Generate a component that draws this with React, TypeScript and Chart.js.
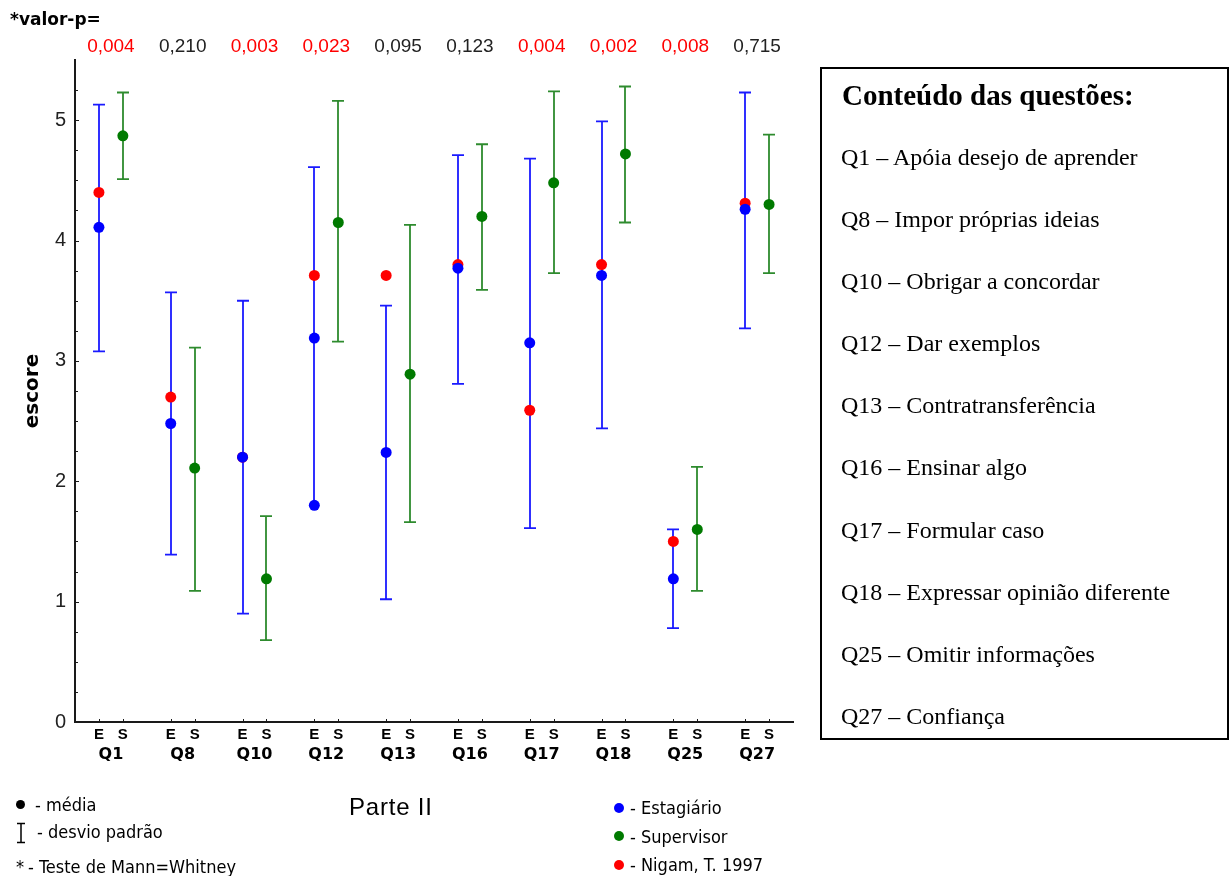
import React, { useEffect, useRef } from 'react';
import { Chart, registerables } from 'chart.js';

Chart.register(...registerables);

// ---------- data ----------
const questions = ['Q1', 'Q8', 'Q10', 'Q12', 'Q13', 'Q16', 'Q17', 'Q18', 'Q25', 'Q27'];
const pValues = ['0,004', '0,210', '0,003', '0,023', '0,095', '0,123', '0,004', '0,002', '0,008', '0,715'];

const estagiarioMean = [4.11, 2.48, 2.2, 3.19, 2.24, 3.77, 3.15, 3.71, 1.19, 4.26];
const estagiarioUpper = [5.13, 3.57, 3.5, 4.61, 3.46, 4.71, 4.68, 4.99, 1.6, 5.23];
const estagiarioLower = [3.08, 1.39, 0.9, 1.8, 1.02, 2.81, 1.61, 2.44, 0.78, 3.27];
const estagiarioExtraPoint = [null, null, null, 1.8, null, null, null, null, null, null];

const supervisorMean = [4.87, 2.11, 1.19, 4.15, 2.89, 4.2, 4.48, 4.72, 1.6, 4.3];
const supervisorUpper = [5.23, 3.11, 1.71, 5.16, 4.13, 4.8, 5.24, 5.28, 2.12, 4.88];
const supervisorLower = [4.51, 1.09, 0.68, 3.16, 1.66, 3.59, 3.73, 4.15, 1.09, 3.73];

const nigamMean = [4.4, 2.7, 2.2, 3.71, 3.71, 3.8, 2.59, 3.8, 1.5, 4.31];

const yTickValues = [0, 1, 2, 3, 4, 5];
const groupLetters = ['E', 'S'];

const contentTitle = 'Conteúdo das questões:';
const contentItems = [
  'Q1 – Apóia desejo de aprender',
  'Q8 – Impor próprias ideias',
  'Q10 – Obrigar a concordar',
  'Q12 – Dar exemplos',
  'Q13 – Contratransferência',
  'Q16 – Ensinar algo',
  'Q17 – Formular caso',
  'Q18 – Expressar opinião diferente',
  'Q25 – Omitir informações',
  'Q27 – Confiança',
];

// ---------- styles ----------
const SANS = '"Liberation Sans", Arial, sans-serif';
const COND = '"DejaVu Sans Condensed", "Liberation Sans", Arial, sans-serif';
const DEJAVU = '"DejaVu Sans", sans-serif';
const SERIF = '"Liberation Serif", "Times New Roman", serif';

const BLUE = '#0000ff';
const BLUE_LINE = '#1a1aff';
const GREEN = '#007a00';
const GREEN_LINE = '#2e8b2e';
const RED = '#ff0000';
const AXIS = '#1a1a1a';

const ePos = (i: number) => 3 * i + 1;
const sPos = (i: number) => 3 * i + 2;
const gPos = (i: number) => 3 * i + 1.5;

const errorBarPlugin = {
  id: 'errorBars',
  beforeDatasetsDraw(chart: any) {
    const { ctx } = chart;
    const xs = chart.scales.x;
    const ys = chart.scales.y;
    const bar = (xv: number, lo: number, hi: number, color: string, lowCap: boolean) => {
      const px = Math.round(xs.getPixelForValue(xv));
      const pLo = ys.getPixelForValue(lo);
      const pHi = ys.getPixelForValue(hi);
      ctx.save();
      ctx.strokeStyle = color;
      ctx.lineWidth = 1.8;
      ctx.beginPath();
      ctx.moveTo(px, pLo);
      ctx.lineTo(px, pHi);
      ctx.moveTo(px - 6, pHi);
      ctx.lineTo(px + 6, pHi);
      if (lowCap) {
        ctx.moveTo(px - 6, pLo);
        ctx.lineTo(px + 6, pLo);
      }
      ctx.stroke();
      ctx.restore();
    };
    questions.forEach((_, i) => {
      bar(ePos(i), estagiarioLower[i], estagiarioUpper[i], BLUE_LINE, estagiarioExtraPoint[i] == null);
      bar(sPos(i), supervisorLower[i], supervisorUpper[i], GREEN_LINE, true);
    });
  },
};

const inwardTicksPlugin = {
  id: 'inwardTicks',
  afterDraw(chart: any) {
    const { ctx } = chart;
    const xs = chart.scales.x;
    const ys = chart.scales.y;
    ctx.save();
    ctx.strokeStyle = AXIS;
    ctx.lineWidth = 1;
    ctx.beginPath();
    const left = xs.left;
    for (let v = 0.25; v <= ys.max - 0.2; v += 0.25) {
      const py = Math.round(ys.getPixelForValue(v)) + 0.5;
      const len = Math.abs(v - Math.round(v)) < 1e-6 ? 4 : 3;
      ctx.moveTo(left, py);
      ctx.lineTo(left + len, py);
    }
    const bottom = ys.bottom;
    questions.forEach((_, i) => {
      [ePos(i), sPos(i)].forEach((v) => {
        const px = Math.round(xs.getPixelForValue(v)) + 0.5;
        ctx.moveTo(px, bottom);
        ctx.lineTo(px, bottom - 3);
      });
    });
    ctx.stroke();
    ctx.restore();
  },
};

const pColor = (p: string) => (parseFloat(p.replace(',', '.')) < 0.05 ? RED : '#222222');

const noGrid = { display: false, drawTicks: false, tickLength: 0 };

function buildConfig(): any {
  const esTicks = questions.flatMap((_, i) => [ePos(i), sPos(i)]);
  return {
    type: 'scatter',
    data: {
      datasets: [
        {
          label: 'Estagiário',
          data: questions.map((_, i) => ({ x: ePos(i), y: estagiarioMean[i] })),
          backgroundColor: BLUE,
          borderColor: BLUE,
          pointRadius: 5.5,
          pointBorderWidth: 0,
        },
        {
          label: 'Estagiário (limite)',
          data: questions
            .map((_, i) => ({ x: ePos(i), y: estagiarioExtraPoint[i] }))
            .filter((d) => d.y != null),
          backgroundColor: BLUE,
          borderColor: BLUE,
          pointRadius: 5.5,
          pointBorderWidth: 0,
        },
        {
          label: 'Nigam, T. 1997',
          data: questions.map((_, i) => ({ x: ePos(i), y: nigamMean[i] })),
          backgroundColor: RED,
          borderColor: RED,
          pointRadius: 5.5,
          pointBorderWidth: 0,
        },
        {
          label: 'Supervisor',
          data: questions.map((_, i) => ({ x: sPos(i), y: supervisorMean[i] })),
          backgroundColor: GREEN,
          borderColor: GREEN,
          pointRadius: 5.5,
          pointBorderWidth: 0,
        },
      ],
    },
    options: {
      responsive: false,
      animation: false,
      devicePixelRatio: 1,
      layout: { padding: { left: 0, top: 0, right: 438, bottom: 0 } },
      plugins: {
        legend: { display: false },
        tooltip: { enabled: false },
      },
      scales: {
        x: {
          type: 'linear',
          position: 'bottom',
          min: 0,
          max: 30,
          weight: 0,
          grid: noGrid,
          border: { display: true, color: AXIS, width: 2 },
          afterBuildTicks: (s: any) => {
            s.ticks = esTicks.map((v) => ({ value: v }));
          },
          afterFit: (s: any) => {
            s.height = 22;
          },
          ticks: {
            autoSkip: false,
            maxRotation: 0,
            padding: 4,
            color: '#000',
            font: { family: SANS, size: 15, weight: 'bold' },
            callback: (_v: any, idx: number) => groupLetters[idx % 2],
          },
        },
        xq: {
          type: 'linear',
          position: 'bottom',
          min: 0,
          max: 30,
          weight: 1,
          grid: noGrid,
          border: { display: false },
          afterBuildTicks: (s: any) => {
            s.ticks = questions.map((_, i) => ({ value: gPos(i) }));
          },
          afterFit: (s: any) => {
            s.height = 132;
          },
          ticks: {
            autoSkip: false,
            maxRotation: 0,
            padding: 1,
            color: '#000',
            font: { family: DEJAVU, size: 16, weight: 'bold' },
            callback: (_v: any, idx: number) => questions[idx],
          },
        },
        xp: {
          type: 'linear',
          position: 'top',
          min: 0,
          max: 30,
          grid: noGrid,
          border: { display: false },
          afterBuildTicks: (s: any) => {
            s.ticks = pValues.map((_, i) => ({ value: gPos(i) }));
          },
          afterFit: (s: any) => {
            s.height = 60;
          },
          ticks: {
            autoSkip: false,
            maxRotation: 0,
            padding: 2,
            font: { family: SANS, size: 19 },
            color: (c: any) => pColor(pValues[c.index] || '1'),
            callback: (_v: any, idx: number) => pValues[idx],
          },
        },
        y: {
          type: 'linear',
          position: 'left',
          min: 0,
          max: 5.5,
          grid: noGrid,
          border: { display: true, color: AXIS, width: 2 },
          afterBuildTicks: (s: any) => {
            s.ticks = yTickValues.map((v) => ({ value: v }));
          },
          afterFit: (s: any) => {
            s.width = 75;
          },
          ticks: {
            padding: 9,
            color: '#222',
            font: { family: SANS, size: 20 },
            callback: (v: any) => String(v),
          },
          title: {
            display: true,
            text: 'escore',
            color: '#000',
            padding: { top: 21, bottom: 0 },
            font: { family: DEJAVU, size: 20, weight: 'bold' },
          },
        },
      },
    },
    plugins: [errorBarPlugin, inwardTicksPlugin],
  };
}

// ---------- overlay helpers ----------
const baseTop = (baseline: number, size: number, ratio: number) => baseline - ratio * size;

function Txt(props: {
  x: number;
  baseline: number;
  size: number;
  family: string;
  ratio?: number;
  weight?: string;
  color?: string;
  ls?: number;
  children: React.ReactNode;
}) {
  const ratio = props.ratio ?? 0.8465;
  return (
    <div
      style={{
        position: 'absolute',
        left: props.x,
        top: baseTop(props.baseline, props.size, ratio),
        fontSize: props.size,
        lineHeight: `${props.size}px`,
        fontFamily: props.family,
        fontWeight: (props.weight as any) || 'normal',
        color: props.color || '#000',
        letterSpacing: props.ls ? `${props.ls}px` : undefined,
        whiteSpace: 'nowrap',
      }}
    >
      {props.children}
    </div>
  );
}

function Dot({ cx, cy, color, d = 9 }: { cx: number; cy: number; color: string; d?: number }) {
  return (
    <div
      style={{
        position: 'absolute',
        left: cx - d / 2,
        top: cy - d / 2,
        width: d,
        height: d,
        borderRadius: '50%',
        background: color,
      }}
    />
  );
}

export default function App() {
  const ref = useRef<HTMLCanvasElement | null>(null);
  useEffect(() => {
    if (!ref.current) return;
    const chart = new Chart(ref.current, buildConfig());
    return () => chart.destroy();
  }, []);

  return (
    <div
      style={{
        position: 'absolute',
        left: 0,
        top: 0,
        width: 1231,
        height: 876,
        background: '#fff',
        overflow: 'hidden',
      }}
    >
      <canvas
        ref={ref}
        width={1231}
        height={876}
        style={{ position: 'absolute', left: 0, top: 0, width: 1231, height: 876 }}
      />

      {/* p-value header */}
      <Txt x={10} baseline={25} size={17} family={DEJAVU} weight="bold" ratio={0.846}>
        *valor-p=
      </Txt>

      {/* bottom-left notes */}
      <Dot cx={20} cy={804} color="#000" d={9} />
      <Txt x={35} baseline={811} size={18} family={COND}>
        - média
      </Txt>
      <svg width={12} height={22} style={{ position: 'absolute', left: 15, top: 822 }}>
        <path d="M2 1.5 H10 M6 1.5 V20.5 M2 20.5 H10" stroke="#000" strokeWidth={1.5} fill="none" />
      </svg>
      <Txt x={37} baseline={838} size={18} family={COND}>
        - desvio padrão
      </Txt>
      <Txt x={16} baseline={873} size={18} family={COND}>
        *
      </Txt>
      <Txt x={28} baseline={873} size={18} family={COND}>
        - Teste de Mann=Whitney
      </Txt>

      {/* axis caption */}
      <Txt x={349} baseline={815} size={24} family={SANS} ls={0.8}>
        Parte II
      </Txt>

      {/* series legend */}
      <Dot cx={618.5} cy={808} color={BLUE} d={10} />
      <Txt x={630} baseline={814} size={18} family={COND}>
        - Estagiário
      </Txt>
      <Dot cx={618.5} cy={836} color={GREEN} d={10} />
      <Txt x={630} baseline={843} size={18} family={COND}>
        - Supervisor
      </Txt>
      <Dot cx={618.5} cy={865} color={RED} d={10} />
      <Txt x={630} baseline={871} size={18} family={COND}>
        - Nigam, T. 1997
      </Txt>

      {/* content box */}
      <div
        style={{
          position: 'absolute',
          left: 820,
          top: 67,
          width: 409,
          height: 673,
          border: '2px solid #000',
          boxSizing: 'border-box',
        }}
      />
      <Txt x={842} baseline={105} size={29} family={SERIF} weight="bold" ratio={0.8375}>
        {contentTitle}
      </Txt>
      {contentItems.map((t, k) => (
        <Txt key={t} x={841} baseline={165 + k * 62.1} size={24} family={SERIF} ratio={0.8375}>
          {t}
        </Txt>
      ))}
    </div>
  );
}
